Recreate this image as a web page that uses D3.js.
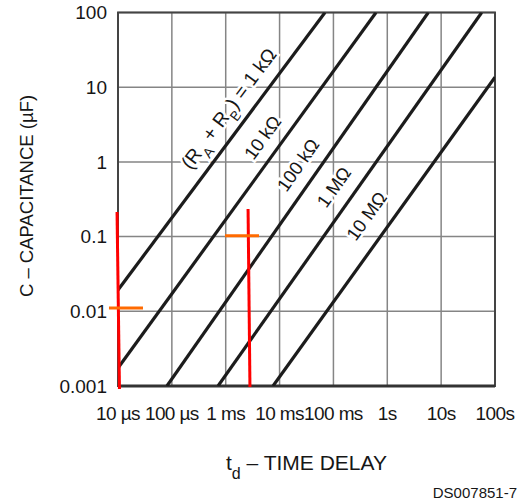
<!doctype html>
<html>
<head>
<meta charset="utf-8">
<style>
	body { margin: 0; background: #fff; }
	text { font-family: "Liberation Sans", Arial, sans-serif; fill: #161616; }
</style>
</head>
<body>
	<div class="chart"></div>

	<script src="https://d3js.org/d3.v7.min.js"></script>
	<script>
		// axis ticks: time delay in seconds, capacitance in µF
		let timeTicks = [1e-5, 1e-4, 1e-3, 1e-2, 1e-1, 1, 10, 100];
		let timeLabels = ["10 µs", "100 µs", "1 ms", "10 ms", "100 ms", "1s", "10s", "100s"];
		let capTicks = [0.001, 0.01, 0.1, 1, 10, 100];
		let capLabels = ["0.001", "0.01", "0.1", "1", "10", "100"];

		// (RA + RB) lines, start / end
		let resNames = ["1 kΩ", "10 kΩ", "100 kΩ", "1 MΩ", "10 MΩ"];
		let resT0 = [1e-5, 1e-5, 8.1e-5, 7.2e-4, 7.55e-3];
		let resC0 = [0.0193, 0.00174, 0.001, 0.001, 0.001];
		let resT1 = [0.0697, 0.617, 5.77, 56.6, 100];
		let resC1 = [100, 100, 100, 100, 13.6];
		// centre of each line label
		let labelT = [1.13e-3, 4.82e-3, 0.022, 0.102, 0.411];
		let labelC = [5.19, 2.12, 0.91, 0.46, 0.189];

		// hand drawn marks on top of the chart
		let redT0 = [0.96e-5, 2.6e-3];
		let redC0 = [0.213, 0.234];
		let redT1 = [1.065e-5, 2.82e-3];
		let redC1 = [0.00091, 0.00097];
		let orangeT0 = [6.8e-6, 9.7e-4];
		let orangeT1 = [2.91e-5, 4.15e-3];
		let orangeC = [0.0111, 0.103];

		let width = 522,
			height = 501,
			margin = { left: 118, right: 27, top: 12.5, bottom: 115 };

		let svg = d3.select(".chart")
			.append("svg")
			.attr("width", width)
			.attr("height", height);

		let scaleX = d3.scaleLog()
			.domain([1e-5, 100])
			.range([margin.left, width - margin.right]);

		let scaleY = d3.scaleLog()
			.domain([0.001, 100])
			.range([height - margin.bottom, margin.top]);

		let x0 = scaleX.range()[0], x1 = scaleX.range()[1];
		let y0 = scaleY.range()[0], y1 = scaleY.range()[1];

		// grid
		svg.append("g")
			.selectAll("line.v")
			.data(timeTicks)
			.join("line")
			.attr("x1", d => scaleX(d)).attr("x2", d => scaleX(d))
			.attr("y1", y1).attr("y2", y0)
			.attr("stroke", "#858585").attr("stroke-width", 1.5);

		svg.append("g")
			.selectAll("line.h")
			.data(capTicks)
			.join("line")
			.attr("x1", x0).attr("x2", x1)
			.attr("y1", d => scaleY(d)).attr("y2", d => scaleY(d))
			.attr("stroke", "#858585").attr("stroke-width", 1.5);

		// frame
		svg.append("rect")
			.attr("x", x0).attr("y", y1)
			.attr("width", x1 - x0).attr("height", y0 - y1)
			.attr("fill", "none").attr("stroke", "#444").attr("stroke-width", 2);
		svg.append("line")
			.attr("x1", x0).attr("x2", x1).attr("y1", y0).attr("y2", y0)
			.attr("stroke", "#333").attr("stroke-width", 3);

		// tick labels
		svg.append("g")
			.selectAll("text")
			.data(timeTicks)
			.join("text")
			.attr("x", d => scaleX(d))
			.attr("y", y0 + 34)
			.attr("text-anchor", "middle")
			.style("font-size", "19px")
			.style("letter-spacing", "-0.6px")
			.text((d, i) => timeLabels[i]);

		svg.append("g")
			.selectAll("text")
			.data(capTicks)
			.join("text")
			.attr("x", x0 - 11)
			.attr("y", d => scaleY(d))
			.attr("dy", "0.36em")
			.attr("text-anchor", "end")
			.style("font-size", "19px")
			.text((d, i) => capLabels[i]);

		// resistance lines
		svg.append("clipPath").attr("id", "plot")
			.append("rect")
			.attr("x", x0).attr("y", y1)
			.attr("width", x1 - x0).attr("height", y0 - y1);

		let lineF = d3.line().x(d => scaleX(d[0])).y(d => scaleY(d[1]));

		svg.append("g")
			.attr("clip-path", "url(#plot)")
			.selectAll("path")
			.data(resNames)
			.join("path")
			.attr("d", (d, i) => lineF([[resT0[i], resC0[i]], [resT1[i], resC1[i]]]))
			.attr("fill", "none")
			.attr("stroke", "#1c1c1c")
			.attr("stroke-width", 3.2);

		// labels along the lines, white halo breaks the grid
		resNames.forEach((name, i) => {
			let ang = Math.atan2(scaleY(resC1[i]) - scaleY(resC0[i]),
				scaleX(resT1[i]) - scaleX(resT0[i])) * 180 / Math.PI;
			let t = svg.append("text")
				.attr("transform", "translate(" + scaleX(labelT[i]) + "," + scaleY(labelC[i]) + ") rotate(" + ang + ")")
				.attr("text-anchor", "middle")
				.attr("dy", "0.35em")
				.attr("stroke", "white")
				.attr("stroke-width", 5)
				.attr("paint-order", "stroke")
				.style("font-size", i === 0 ? "19.5px" : "18.5px");
			if (i === 0) {
				t.append("tspan").text("(R");
				t.append("tspan").attr("baseline-shift", "sub").style("font-size", "14px").text("A");
				t.append("tspan").text(" + R");
				t.append("tspan").attr("baseline-shift", "sub").style("font-size", "14px").text("B");
				t.append("tspan").text(") = " + name);
			} else {
				t.text(name);
			}
		});

		// axis titles
		svg.append("text")
			.attr("transform", "translate(33," + 196 + ") rotate(-90)")
			.attr("text-anchor", "middle")
			.style("font-size", "18.5px")
			.text("C – CAPACITANCE (µF)");

		let xt = svg.append("text")
			.attr("x", (x0 + x1) / 2)
			.attr("y", 470)
			.attr("text-anchor", "middle")
			.style("font-size", "21px");
		xt.append("tspan").text("t");
		xt.append("tspan").attr("baseline-shift", "sub").style("font-size", "16px").text("d");
		xt.append("tspan").text(" – TIME DELAY");

		svg.append("text")
			.attr("x", 517)
			.attr("y", 498)
			.attr("text-anchor", "end")
			.style("font-size", "15px")
			.text("DS007851-7");

		// red and orange marks
		svg.append("g")
			.selectAll("path")
			.data(redT0)
			.join("path")
			.attr("d", (d, i) => lineF([[redT0[i], redC0[i]], [redT1[i], redC1[i]]]))
			.attr("stroke", "#ff0000")
			.attr("stroke-width", 3);

		svg.append("g")
			.selectAll("path")
			.data(orangeC)
			.join("path")
			.attr("d", (d, i) => lineF([[orangeT0[i], d], [orangeT1[i], d]]))
			.attr("stroke", "#ff6a00")
			.attr("stroke-width", 3);
	</script>
</body>
</html>
